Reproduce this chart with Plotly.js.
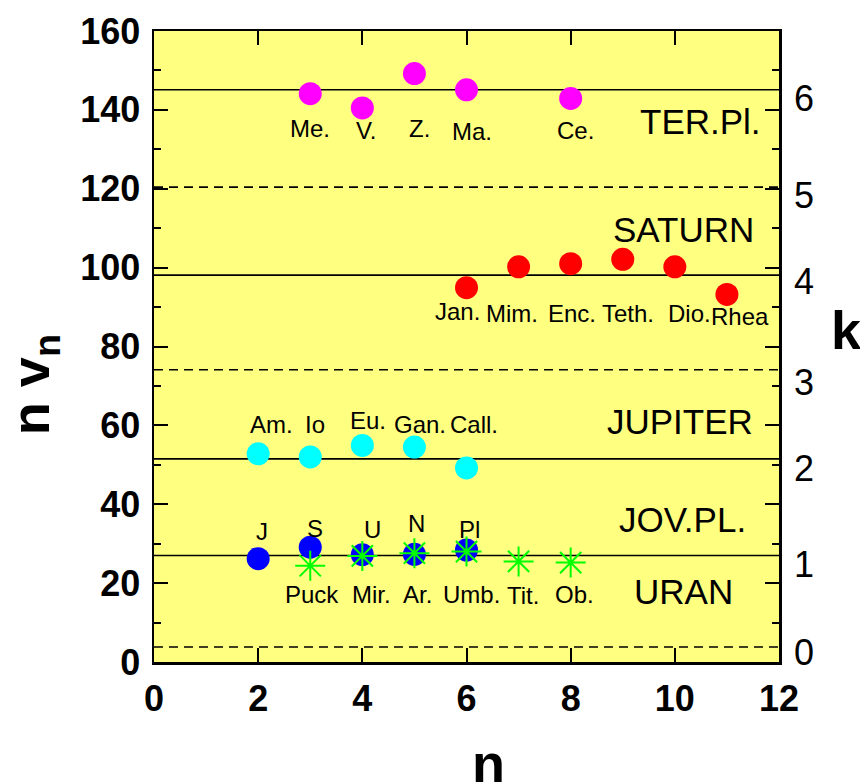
<!DOCTYPE html>
<html>
<head>
<meta charset="utf-8">
<script src="https://cdn.plot.ly/plotly-3.0.1.min.js"></script>
<style>html,body{margin:0;padding:0;background:#fff;}#chart{width:860px;height:782px;}</style>
</head>
<body>
<div id="chart"></div>
<script>
// ---- data ----
const terN = [3, 4, 5, 6, 8];
const terV = [144.1, 140.5, 149.2, 145.1, 142.9];
const terLabels = ['Me.', 'V.', 'Z.', 'Ma.', 'Ce.'];
const terLabelN = [3.0, 4.07, 5.1, 6.11, 8.09];
const terLabelV = [135.2, 134.7, 135.3, 134.5, 134.8];

const satN = [6, 7, 8, 9, 10, 11];
const satV = [94.9, 100.2, 101.0, 102.1, 100.2, 93.2];
const satLabels = ['Jan.', 'Mim.', 'Enc.', 'Teth.', 'Dio.', 'Rhea'];
const satLabelN = [5.83, 6.87, 8.02, 9.11, 10.29, 11.25];
const satLabelV = [89.0, 88.4, 88.4, 88.4, 88.4, 87.7];

const jupN = [2, 3, 4, 5, 6];
const jupV = [52.8, 52.0, 54.9, 54.5, 49.2];
const jupLabels = ['Am.', 'Io', 'Eu.', 'Gan.', 'Call.'];
const jupLabelN = [2.25, 3.09, 4.1, 5.1, 6.14];
const jupLabelV = [60.2, 60.1, 61.3, 60.2, 60.2];

const jovN = [2, 3, 4, 5, 6];
const jovV = [26.2, 29.1, 27.2, 27.3, 28.4];
const jovLabels = ['J', 'S', 'U', 'N', 'Pl'];
const jovLabelN = [2.07, 3.09, 4.19, 5.04, 6.06];
const jovLabelV = [33.2, 33.9, 33.6, 35.0, 33.7];

const uraN = [3, 4, 5, 6, 7, 8];
const uraV = [24.4, 26.9, 27.6, 28.0, 25.5, 25.2];
const uraLabels = ['Puck', 'Mir.', 'Ar.', 'Umb.', 'Tit.', 'Ob.'];
const uraLabelN = [3.04, 4.18, 5.05, 6.1, 7.08, 8.08];
const uraLabelV = [17.2, 17.2, 17.2, 17.2, 16.8, 17.0];

const solidLevels = [145.1, 98.1, 51.5, 27.0];
const dashedLevels = [120.4, 74.1, 3.8];

const regionNames = ['TER.Pl.', 'SATURN', 'JUPITER', 'JOV.PL.', 'URAN'];
const regionV = [137.0, 109.6, 61.1, 36.2, 17.9];
const regionRightN = [11.69, 11.55, 11.54, 11.41, 11.16];

const kTickText = ['0', '1', '2', '3', '4', '5', '6'];
const kTickPos = [2.5, 24.8, 49.1, 71.0, 96.4, 118.3, 142.9];

const xRange = [0, 12];
const yRange = [0, 160];

// ---- build ----
const FONT = 'Liberation Sans, Arial, sans-serif';
const traces = [];

solidLevels.forEach(v => traces.push({
  x: xRange, y: [v, v], mode: 'lines', line: {color: 'black', width: 1.6},
  hoverinfo: 'skip', showlegend: false
}));
dashedLevels.forEach(v => traces.push({
  x: xRange, y: [v, v], mode: 'lines', line: {color: 'black', width: 1.6, dash: '9px,6px'},
  hoverinfo: 'skip', showlegend: false
}));

function circles(xs, ys, color) {
  return {x: xs, y: ys, mode: 'markers', type: 'scatter',
    marker: {symbol: 'circle', size: 23, color: color, line: {width: 0}}, showlegend: false};
}
traces.push(circles(terN, terV, '#ff00ff'));
traces.push(circles(satN, satV, '#ff0000'));
traces.push(circles(jupN, jupV, '#00ffff'));
traces.push(circles(jovN, jovV, '#0000ff'));
traces.push({x: uraN, y: uraV, mode: 'markers', type: 'scatter',
  marker: {symbol: 'asterisk-open', size: 25, color: '#00ff00', line: {color: '#00ff00', width: 2}},
  showlegend: false});
// invisible trace to carry the right-hand k axis
traces.push({x: [0], y: [0], yaxis: 'y2', mode: 'markers', marker: {opacity: 0}, hoverinfo: 'skip', showlegend: false});

const annotations = [];
function addLabels(names, xs, ys) {
  names.forEach((t, i) => annotations.push({
    text: t, x: xs[i], y: ys[i], xref: 'x', yref: 'y', showarrow: false,
    xanchor: 'center', yanchor: 'middle', font: {family: FONT, size: 24, color: 'black'}
  }));
}
addLabels(terLabels, terLabelN, terLabelV);
addLabels(satLabels, satLabelN, satLabelV);
addLabels(jupLabels, jupLabelN, jupLabelV);
addLabels(jovLabels, jovLabelN, jovLabelV);
addLabels(uraLabels, uraLabelN, uraLabelV);

regionNames.forEach((t, i) => annotations.push({
  text: t, x: regionRightN[i], y: regionV[i], xref: 'x', yref: 'y', showarrow: false,
  xanchor: 'right', yanchor: 'middle', font: {family: FONT, size: 35, color: 'black'}
}));

// axis titles
annotations.push({text: 'n v<sub>n</sub>', xref: 'paper', yref: 'y', x: 0, y: 70.2, xshift: -120,
  textangle: -90, showarrow: false, xanchor: 'center', yanchor: 'middle',
  font: {family: FONT, size: 54, color: 'black', weight: 'bold'}});
annotations.push({text: 'n', xref: 'x', yref: 'paper', x: 6.42, y: 0, yshift: -101,
  showarrow: false, xanchor: 'center', yanchor: 'middle',
  font: {family: FONT, size: 54, color: 'black', weight: 'bold'}});
annotations.push({text: 'k', xref: 'paper', yref: 'y', x: 1, y: 84.1, xshift: 67,
  showarrow: false, xanchor: 'center', yanchor: 'middle',
  font: {family: FONT, size: 54, color: 'black', weight: 'bold'}});

const tickFontBold = {family: FONT, size: 36, color: 'black', weight: 'bold'};

const layout = {
  width: 860, height: 782,
  margin: {l: 154, r: 81, t: 31, b: 120, pad: 0},
  paper_bgcolor: 'white', plot_bgcolor: '#ffff80',
  showlegend: false,
  xaxis: {
    range: xRange, tick0: 0, dtick: 2, ticks: 'inside', ticklen: 14, tickwidth: 2, tickcolor: 'black',
    showline: true, linewidth: 2.5, linecolor: 'black', mirror: 'ticks',
    showgrid: false, zeroline: false, tickfont: tickFontBold, ticklabelstandoff: 3
  },
  yaxis: {
    range: yRange, tick0: 0, dtick: 20, ticks: 'inside', ticklen: 14, tickwidth: 2, tickcolor: 'black',
    minor: {dtick: 10, ticks: 'inside', ticklen: 7, tickwidth: 2, tickcolor: 'black', showgrid: false},
    showline: true, linewidth: 2.5, linecolor: 'black', mirror: 'ticks',
    showgrid: false, zeroline: false, tickfont: tickFontBold, ticklabelstandoff: 4
  },
  yaxis2: {
    overlaying: 'y', side: 'right', range: yRange, tickmode: 'array',
    tickvals: kTickPos, ticktext: kTickText, ticks: '', showline: false, showgrid: false, zeroline: false,
    tickfont: {family: FONT, size: 36, color: 'black'}, ticklabelstandoff: 14
  },
  annotations: annotations
};

Plotly.newPlot('chart', traces, layout, {staticPlot: true, displayModeBar: false});
</script>
</body>
</html>
